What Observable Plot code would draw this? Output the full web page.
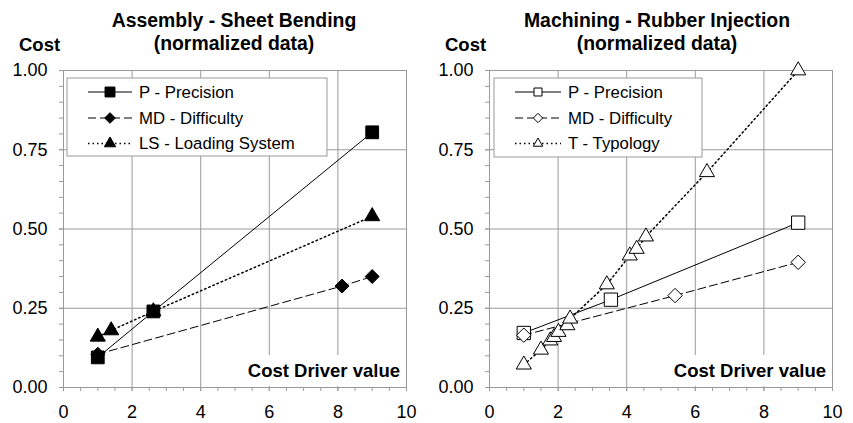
<!DOCTYPE html>
<html><head><meta charset="utf-8">
<script src="https://cdn.jsdelivr.net/npm/d3@7"></script>
<script src="https://cdn.jsdelivr.net/npm/@observablehq/plot@0.6"></script>
<style>
body{margin:0;background:#fff;}
#wrap{display:flex;width:853px;height:423px;overflow:hidden;}
svg{font-family:"Liberation Sans",Arial,sans-serif;}
</style></head><body><div id="wrap"></div>
<script>
// ---- data ----
const leftTitle = ["Assembly - Sheet Bending", "(normalized data)"];
const rightTitle = ["Machining - Rubber Injection", "(normalized data)"];
const yLabel = "Cost";
const xLabel = "Cost Driver value";
const yMajor = [0, 0.25, 0.5, 0.75, 1];
const xMajor = [0, 2, 4, 6, 8, 10];

const leftSeries = ["P - Precision", "MD - Difficulty", "LS - Loading System"];
const leftP_x = [1, 2.62, 9];
const leftP_y = [0.095, 0.24, 0.805];
const leftMD_x = [1, 8.12, 9];
const leftMD_y = [0.105, 0.32, 0.35];
const leftLS_x = [1, 1.39, 2.62, 9];
const leftLS_y = [0.16, 0.18, 0.24, 0.54];

const rightSeries = ["P - Precision", "MD - Difficulty", "T - Typology"];
const rightP_x = [1, 3.54, 9];
const rightP_y = [0.172, 0.277, 0.52];
const rightMD_x = [1, 5.41, 9];
const rightMD_y = [0.165, 0.29, 0.395];
const rightT_x = [1, 1.5, 1.77, 1.88, 2.01, 2.27, 2.35, 3.42, 4.09, 4.29, 4.56, 6.34, 9];
const rightT_y = [0.072, 0.119, 0.148, 0.159, 0.175, 0.196, 0.217, 0.325, 0.416, 0.437, 0.476, 0.679, 1.0];

// ---- helpers ----
const rows = (xs, ys) => xs.map((x, i) => ({x, y: ys[i]}));
const GRID = "#9a9a9a";
const FONT = '"Liberation Sans", Arial, sans-serif';
const styles = [
  {dash: null, width: 1, symbol: "square"},
  {dash: "8,4", width: 1, symbol: "diamond2"},
  {dash: "1.5,3", width: 1.5, symbol: "triangle"}
];
const symbolTypes = {square: d3.symbolSquare, diamond2: d3.symbolDiamond2, triangle: d3.symbolTriangle};

function chart(opt) {
  const {w, ml, mr, series, names, filled, title, dotR, legendBox, legendLine, legendSym} = opt;
  const mt = 70, mb = 36, h = 423;
  const yMinor = d3.range(0, 21).map(i => i * 0.05);
  const xMinor = d3.range(0, 21).map(i => i * 0.5);
  const marks = [
    Plot.gridX(xMajor.filter(v => v > 0 && v < 10), {stroke: GRID, strokeOpacity: 1}),
    Plot.gridY(yMajor.filter(v => v > 0 && v < 1), {stroke: GRID, strokeOpacity: 1}),
    Plot.frame({stroke: GRID}),
    Plot.axisY(yMinor, {tickSize: 4, tickFormat: () => "", stroke: GRID, label: null}),
    Plot.axisY(yMajor, {tickSize: 4, tickPadding: 12, tickFormat: d3.format(".2f"), stroke: GRID, fill: "#000", fontSize: 18, label: null}),
    Plot.axisX(xMinor, {tickSize: 4, tickFormat: () => "", stroke: GRID, label: null}),
    Plot.axisX(xMajor, {tickSize: 4, tickPadding: 14, tickFormat: d3.format("d"), stroke: GRID, fill: "#000", fontSize: 18, label: null})
  ];
  series.forEach((s, i) => {
    marks.push(Plot.line(s, {x: "x", y: "y", stroke: "#000", strokeWidth: styles[i].width, strokeDasharray: styles[i].dash}));
  });
  series.forEach((s, i) => {
    marks.push(Plot.dot(s, {x: "x", y: "y", symbol: styles[i].symbol, r: dotR[i],
      fill: filled ? "#000" : "#fff", stroke: "#000", strokeWidth: 1}));
  });
  const svg = Plot.plot({
    width: w, height: h, marginTop: mt, marginBottom: mb, marginLeft: ml, marginRight: mr,
    style: {fontFamily: FONT, fontSize: "18px", color: "#000", background: "#fff"},
    x: {domain: [0, 10], axis: null},
    y: {domain: [0, 1], axis: null},
    marks
  });
  const S = d3.select(svg);
  const fr = w - mr, fb = h - mb;
  const txt = (sel) => sel.attr("font-family", FONT).attr("fill", "#000");
  // titles
  txt(S.append("text")).attr("x", opt.titleX).attr("y", 27).attr("text-anchor", "middle")
    .attr("font-weight", "bold").attr("font-size", 19.4).text(title[0]);
  txt(S.append("text")).attr("x", opt.titleX).attr("y", 50).attr("text-anchor", "middle")
    .attr("font-weight", "bold").attr("font-size", 19.4).text(title[1]);
  txt(S.append("text")).attr("x", opt.costX).attr("y", 51).attr("text-anchor", "start")
    .attr("font-weight", "bold").attr("font-size", 18.5).text(yLabel);
  // x axis title box
  const xt = S.append("g");
  xt.append("rect").attr("x", fr - 162).attr("y", fb - 32).attr("width", 161).attr("height", 31).attr("fill", "#fff");
  txt(xt.append("text")).attr("x", fr - 6).attr("y", fb - 10).attr("text-anchor", "end")
    .attr("font-weight", "bold").attr("font-size", 18.5).text(xLabel);
  // legend
  const L = S.append("g");
  const [lx, ly, lw, lh] = legendBox;
  L.append("rect").attr("x", lx).attr("y", ly).attr("width", lw).attr("height", lh)
    .attr("fill", "#fff").attr("stroke", GRID).attr("stroke-width", 1);
  const rowsY = [ly + 14, ly + 40, ly + 65.5];
  names.forEach((n, i) => {
    const yy = rowsY[i];
    L.append("line").attr("x1", legendLine[0]).attr("x2", legendLine[1]).attr("y1", yy).attr("y2", yy)
      .attr("stroke", "#000").attr("stroke-width", styles[i].width)
      .attr("stroke-dasharray", styles[i].dash);
    const mx = (legendLine[0] + legendLine[1]) / 2;
    L.append("path").attr("transform", `translate(${mx},${yy})`)
      .attr("d", d3.symbol(symbolTypes[styles[i].symbol], Math.PI * legendSym[i] * legendSym[i])())
      .attr("fill", filled ? "#000" : "#fff").attr("stroke", "#000");
    txt(L.append("text")).attr("x", legendLine[1] + 7).attr("y", yy).attr("dy", "0.35em")
      .attr("text-anchor", "start").attr("font-size", 16.8).text(n);
  });
  return svg;
}

const wrap = document.getElementById("wrap");
wrap.append(chart({
  w: 430, ml: 63, mr: 24, filled: true, title: leftTitle, names: leftSeries, costX: 19, titleX: 234,
  series: [rows(leftP_x, leftP_y), rows(leftMD_x, leftMD_y), rows(leftLS_x, leftLS_y)],
  dotR: [7.2, 6.3, 5.6],
  legendBox: [67, 78, 260, 78], legendLine: [88, 132], legendSym: [5.6, 4.8, 4.2]
}));
wrap.append(chart({
  w: 423, ml: 59, mr: 21, filled: false, title: rightTitle, names: rightSeries, costX: 15, titleX: 227,
  series: [rows(rightP_x, rightP_y), rows(rightMD_x, rightMD_y), rows(rightT_x, rightT_y)],
  dotR: [7.5, 6.5, 5.6],
  legendBox: [64, 78, 208, 79], legendLine: [85, 131], legendSym: [4.5, 4.2, 3.5]
}));
</script></body></html>
